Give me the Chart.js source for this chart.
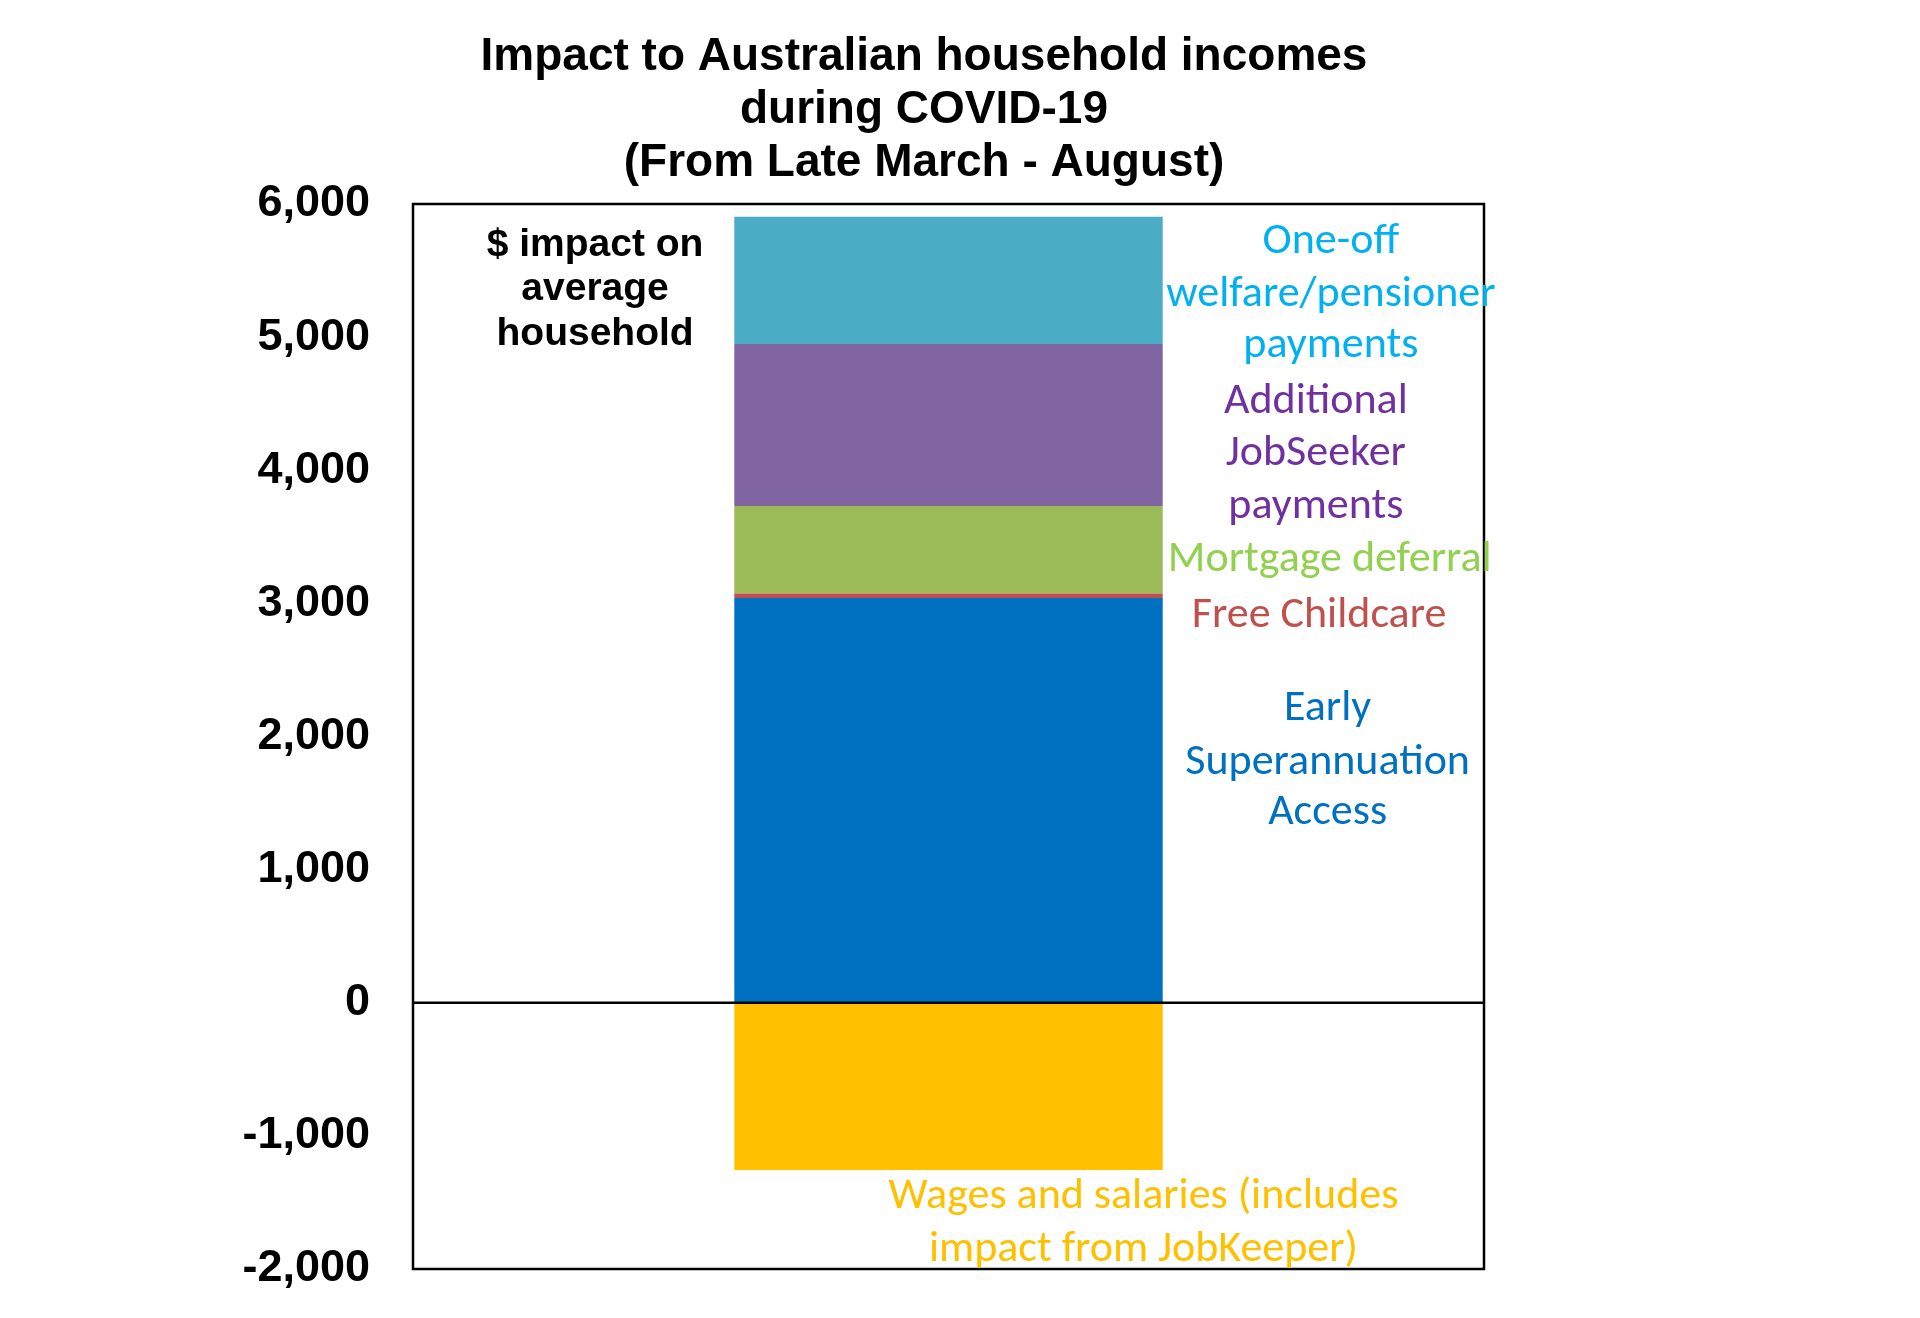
<!DOCTYPE html>
<html>
<head>
<meta charset="utf-8">
<script src="https://cdn.jsdelivr.net/npm/chart.js@4.4.1/dist/chart.umd.min.js"></script>
<style>
  html, body { margin: 0; padding: 0; background: #ffffff; }
  #wrap { width: 1920px; height: 1318px; }
</style>
</head>
<body>
<div id="wrap"><canvas id="c" width="1920" height="1318"></canvas></div>
<script>
// ---- Data ----
const categories = ['Average household'];
const seriesNames = [
  'Wages and salaries (includes impact from JobKeeper)',
  'Early Superannuation Access',
  'Free Childcare',
  'Mortgage deferral',
  'Additional JobSeeker payments',
  'One-off welfare/pensioner payments'
];
const wagesAndSalaries = [-1257];
const earlySuperAccess = [3040];
const freeChildcare = [35];
const mortgageDeferral = [657];
const additionalJobSeeker = [1217];
const oneOffPayments = [956];
const yTickValues = [6000, 5000, 4000, 3000, 2000, 1000, 0, -1000, -2000];
const titleLines = ['Impact to Australian household incomes', 'during COVID-19', '(From Late March - August)'];

// ---- Styles ----
const barColors = ['#FFC000', '#0070C0', '#C0504D', '#9BBB59', '#8064A2', '#4BACC6'];
const seriesValues = [wagesAndSalaries, earlySuperAccess, freeChildcare, mortgageDeferral, additionalJobSeeker, oneOffPayments];

// Annotation labels: x as fraction of plot width, y in data units
const annotations = [
  { lines: ['$ impact on', 'average', 'household'], ys: [5693, 5362, 5021], fx: 0.170, color: '#000000', font: 'bold 39px "Liberation Sans", Arial, sans-serif' },
  { lines: ['One-off', 'welfare/pensioner', 'payments'], ys: [5711, 5316, 4930], fx: 0.857, color: '#00B0F0' },
  { lines: ['Additional', 'JobSeeker', 'payments'], ys: [4516, 4120, 3724], fx: 0.843, color: '#7030A0' },
  { lines: ['Mortgage deferral'], ys: [3329], fx: 0.856, color: '#92D050' },
  { lines: ['Free Childcare'], ys: [2905], fx: 0.846, color: '#C0504D' },
  { lines: ['Early', 'Superannuation', 'Access'], ys: [2206, 1801, 1424], fx: 0.854, color: '#0070C0' },
  { lines: ['Wages and salaries (includes', 'impact from JobKeeper)'], ys: [-1456, -1860], fx: 0.682, color: '#FFC000' }
];
const labelFont = '44px Carlito, Calibri, Lato, "Open Sans", sans-serif';

const overlayPlugin = {
  id: 'overlay',
  afterDatasetsDraw(chart) {
    const ctx = chart.ctx;
    const a = chart.chartArea;
    const y = chart.scales.y;
    ctx.save();
    ctx.strokeStyle = '#000';
    ctx.lineWidth = 2.5;
    const z = y.getPixelForValue(0);
    ctx.beginPath();
    ctx.moveTo(a.left, z);
    ctx.lineTo(a.right, z);
    ctx.stroke();
    ctx.strokeRect(a.left, a.top, a.right - a.left, a.bottom - a.top);
    ctx.restore();
  },
  afterDraw(chart) {
    const ctx = chart.ctx;
    const a = chart.chartArea;
    const y = chart.scales.y;
    ctx.save();
    ctx.textAlign = 'center';
    ctx.textBaseline = 'middle';
    ctx.fillStyle = '#000';
    ctx.font = 'bold 46px "Liberation Sans", Arial, sans-serif';
    const titleYs = [57, 110, 163];
    titleLines.forEach((t, i) => ctx.fillText(t, 924, titleYs[i]));
    annotations.forEach(an => {
      ctx.fillStyle = an.color;
      ctx.font = an.font || labelFont;
      const x = a.left + an.fx * (a.right - a.left);
      an.lines.forEach((t, i) => ctx.fillText(t, x, y.getPixelForValue(an.ys[i])));
    });
    ctx.restore();
  }
};

new Chart(document.getElementById('c'), {
  type: 'bar',
  data: {
    labels: categories,
    datasets: seriesNames.map((name, i) => ({
      label: name,
      data: seriesValues[i],
      backgroundColor: barColors[i],
      borderWidth: 0,
      barPercentage: 0.4,
      categoryPercentage: 1.0
    }))
  },
  options: {
    responsive: false,
    animation: false,
    devicePixelRatio: 1,
    layout: { padding: { top: 204, right: 436, bottom: 49, left: 0 } },
    plugins: {
      legend: { display: false },
      title: { display: false },
      tooltip: { enabled: false }
    },
    scales: {
      x: { stacked: true, display: false },
      y: {
        stacked: true,
        min: -2000,
        max: 6000,
        afterFit(s) { s.width = 413; s.paddingTop = 0; s.paddingBottom = 0; },
        afterBuildTicks(s) { s.ticks = yTickValues.map(v => ({ value: v })); },
        grid: { display: false, drawTicks: false },
        border: { display: false },
        ticks: {
          padding: 43,
          color: '#000',
          font: { family: '"Liberation Sans", Arial, sans-serif', size: 45, weight: 'bold' },
          callback: v => v.toLocaleString('en-US')
        }
      }
    }
  },
  plugins: [overlayPlugin]
});
</script>
</body>
</html>
